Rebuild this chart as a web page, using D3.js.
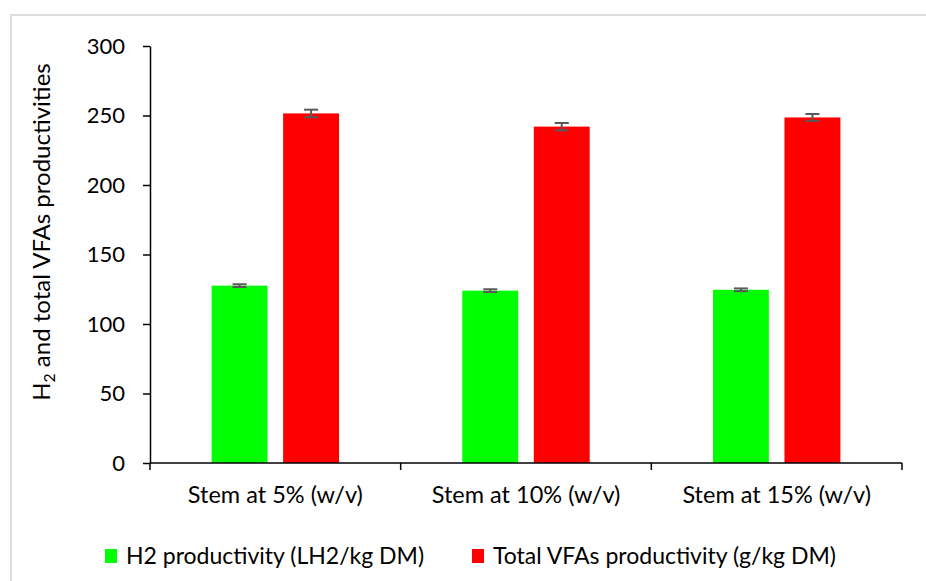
<!DOCTYPE html>
<html>
<head>
<meta charset="utf-8">
<script src="https://cdn.jsdelivr.net/npm/d3@7"></script>
<style>
  html, body { margin: 0; padding: 0; background: #fff; }
  svg { display: block; font-family: Lato, "Open Sans", sans-serif; }
</style>
</head>
<body>
<svg id="chart" width="926" height="581"></svg>
<script>
// Substrate loadings on the x axis
const categories = ["Stem at 5% (w/v)", "Stem at 10% (w/v)", "Stem at 15% (w/v)"];
// Series shown side by side in each group
const seriesNames = ["H2 productivity (LH2/kg DM)", "Total VFAs productivity (g/kg DM)"];
const seriesColors = ["#00ff00", "#ff0000"];
// H2 productivity (LH2/kg DM) and its standard deviation
const h2Values = [127.6, 124.0, 124.6];
const h2Errors = [1.0, 1.0, 1.0];
// Total VFAs productivity (g/kg DM) and its standard deviation
const vfaValues = [251.5, 242.0, 248.6];
const vfaErrors = [2.7, 2.6, 2.5];
// Value axis ticks
const yTicks = [0, 50, 100, 150, 200, 250, 300];

const svg = d3.select("#chart");
const W = 926, H = 581;
const plot = { left: 150, right: 902, top: 46, bottom: 463 };
const tickFont = 22, catFont = 23.5, titleFont = 24, legendFont = 23;

// light frame around the figure
svg.append("path")
  .attr("d", `M11,${H} V15 H${W}`)
  .attr("fill", "none")
  .attr("stroke", "#dcdcdc")
  .attr("stroke-width", 2);

const x = d3.scaleBand().domain(categories).range([plot.left, plot.right]).padding(0);
const xs = d3.scaleBand().domain(seriesNames).range([0, x.bandwidth()])
  .paddingInner(0.218).paddingOuter(0.862);
const y = d3.scaleLinear().domain([0, 300]).range([plot.bottom, plot.top]);

const rows = categories.map((c, i) => ({
  cat: c,
  bars: [
    { s: seriesNames[0], v: h2Values[i], e: h2Errors[i], color: seriesColors[0] },
    { s: seriesNames[1], v: vfaValues[i], e: vfaErrors[i], color: seriesColors[1] }
  ]
}));

const groups = svg.append("g").selectAll("g").data(rows).join("g")
  .attr("transform", d => `translate(${x(d.cat)},0)`);

groups.selectAll("rect").data(d => d.bars).join("rect")
  .attr("x", d => xs(d.s))
  .attr("width", xs.bandwidth())
  .attr("y", d => y(d.v))
  .attr("height", d => y(0) - y(d.v))
  .attr("fill", d => d.color);

// error bars
const capHalf = 7;
const eb = groups.selectAll("g.err").data(d => d.bars).join("g").attr("class", "err")
  .attr("stroke", "#595959").attr("stroke-width", 2).attr("fill", "none");
eb.append("line")
  .attr("x1", d => xs(d.s) + xs.bandwidth() / 2)
  .attr("x2", d => xs(d.s) + xs.bandwidth() / 2)
  .attr("y1", d => y(d.v + d.e)).attr("y2", d => y(d.v - d.e));
eb.append("line")
  .attr("x1", d => xs(d.s) + xs.bandwidth() / 2 - capHalf)
  .attr("x2", d => xs(d.s) + xs.bandwidth() / 2 + capHalf)
  .attr("y1", d => y(d.v + d.e)).attr("y2", d => y(d.v + d.e));
eb.append("line")
  .attr("x1", d => xs(d.s) + xs.bandwidth() / 2 - capHalf)
  .attr("x2", d => xs(d.s) + xs.bandwidth() / 2 + capHalf)
  .attr("y1", d => y(d.v - d.e)).attr("y2", d => y(d.v - d.e));

// y axis
const yAxis = svg.append("g")
  .attr("transform", `translate(${plot.left},0)`)
  .call(d3.axisLeft(y).tickValues(yTicks).tickSize(7).tickPadding(18).tickSizeOuter(0));
yAxis.select(".domain").attr("stroke", "#000").attr("stroke-width", 1.5);
yAxis.selectAll(".tick line").attr("stroke", "#000").attr("stroke-width", 1.5);
yAxis.selectAll(".tick text").attr("font-size", tickFont).attr("fill", "#000")
  .attr("font-family", "Lato, 'Open Sans', sans-serif");

// x axis: ticks at category boundaries, labels at band centres
const xAxis = svg.append("g").attr("transform", `translate(0,${plot.bottom})`);
xAxis.append("line")
  .attr("x1", plot.left).attr("x2", plot.right)
  .attr("stroke", "#000").attr("stroke-width", 1.5);
const bounds = categories.map(c => x(c)).concat([x(categories[categories.length - 1]) + x.bandwidth()]);
xAxis.selectAll("line.tk").data(bounds).join("line").attr("class", "tk")
  .attr("x1", d => d).attr("x2", d => d).attr("y1", 0).attr("y2", 7)
  .attr("stroke", "#000").attr("stroke-width", 1.5);
xAxis.selectAll("text").data(categories).join("text")
  .attr("x", d => x(d) + x.bandwidth() / 2)
  .attr("y", 40)
  .attr("text-anchor", "middle")
  .attr("font-size", catFont)
  .attr("fill", "#000")
  .text(d => d);

// y axis title with subscript
const yt = svg.append("text")
  .attr("transform", "translate(50,232) rotate(-90)")
  .attr("text-anchor", "middle")
  .attr("font-size", titleFont)
  .attr("fill", "#000");
yt.append("tspan").text("H");
yt.append("tspan").attr("font-size", titleFont * 0.65).attr("dy", 5).text("2");
yt.append("tspan").attr("dy", -5).text(" and total VFAs productivities");

// legend
const legendX = [105, 472];
const lg = svg.append("g").selectAll("g").data(seriesNames).join("g")
  .attr("transform", (d, i) => `translate(${legendX[i]},549)`);
lg.append("rect").attr("width", 12).attr("height", 14)
  .attr("fill", (d, i) => seriesColors[i]);
lg.append("text").attr("x", 21).attr("y", 14.5).attr("font-size", legendFont)
  .attr("fill", "#000").text(d => d);
</script>
</body>
</html>
